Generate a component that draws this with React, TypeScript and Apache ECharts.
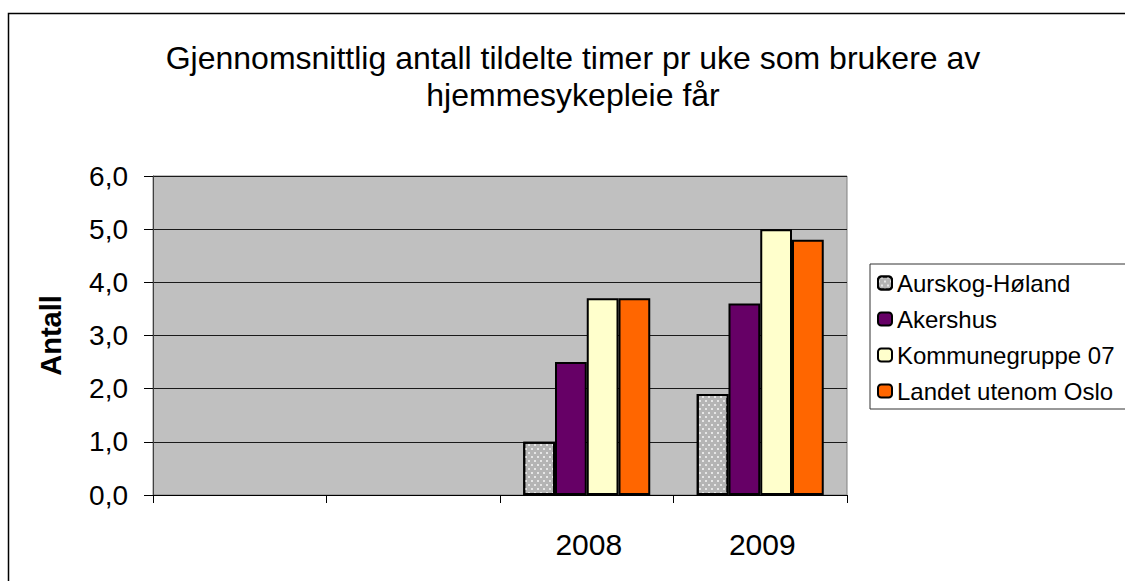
import React, { useEffect, useRef } from "react";
import * as echarts from "echarts";

const categories = ["", "", "2008", "2009"];
const seriesNames = ["Aurskog-Høland", "Akershus", "Kommunegruppe 07", "Landet utenom Oslo"];
const aurskogHoland = [null, null, 1.0, 1.9];
const akershus = [null, null, 2.5, 3.6];
const kommunegruppe07 = [null, null, 3.7, 5.0];
const landetUtenomOslo = [null, null, 3.7, 4.8];
const yTicks = [0, 1, 2, 3, 4, 5, 6];
const titleText = "Gjennomsnittlig antall tildelte timer pr uke som brukere av\nhjemmesykepleie får";
const yAxisName = "Antall";

const FONT = "'Liberation Sans', Arial, Helvetica, sans-serif";

export default function App() {
  const ref = useRef<HTMLDivElement>(null);
  useEffect(() => {
    if (!ref.current) return;
    const chart = echarts.init(ref.current, null, { renderer: "svg" });
    const border = { borderColor: "#000", borderWidth: 2 };
    const values = [aurskogHoland, akershus, kommunegruppe07, landetUtenomOslo];
    const colors = ["#b4b4b4", "#660066", "#ffffcc", "#ff6600"];
    chart.setOption({
      animation: false,
      textStyle: { fontFamily: FONT },
      title: {
        text: titleText,
        left: 568,
        top: 34,
        textAlign: "center",
        textStyle: { fontFamily: FONT, fontSize: 32, fontWeight: "normal", color: "#000", lineHeight: 37 },
      },
      graphic: [
        {
          type: "rect",
          shape: { x: 8.5, y: 13.5, width: 1400, height: 800 },
          style: { fill: "none", stroke: "#000", lineWidth: 1.5 },
          silent: true,
        },
      ],
      legend: {
        orient: "vertical",
        left: 870,
        top: 264,
        padding: [7, 13, 6, 7],
        itemWidth: 14,
        itemHeight: 13,
        itemGap: 12,
        borderColor: "#333",
        borderWidth: 1,
        backgroundColor: "#fff",
        textStyle: { fontFamily: FONT, fontSize: 24, color: "#000" },
        data: seriesNames,
      },
      grid: {
        left: 153,
        top: 176,
        right: 278,
        bottom: 86,
        show: true,
        backgroundColor: "#c0c0c0",
        borderColor: "#808080",
        borderWidth: 1,
      },
      xAxis: {
        type: "category",
        data: categories,
        axisLine: { lineStyle: { color: "#000", width: 1 } },
        axisTick: { show: true, length: 8, lineStyle: { color: "#000" } },
        axisLabel: { fontFamily: FONT, fontSize: 30, color: "#000", margin: 34, interval: 0, padding: [0, 0, 0, 4] },
      },
      yAxis: {
        type: "value",
        min: yTicks[0],
        max: yTicks[yTicks.length - 1],
        interval: 1,
        name: yAxisName,
        nameLocation: "middle",
        nameRotate: 90,
        nameGap: 88,
        nameTextStyle: { fontFamily: FONT, fontSize: 29, fontWeight: "bold", color: "#000" },
        axisLine: { show: true, lineStyle: { color: "#404040", width: 1 } },
        axisTick: { show: true, length: 9, lineStyle: { color: "#000" } },
        axisLabel: {
          fontFamily: FONT,
          fontSize: 28,
          color: "#000",
          margin: 25,
          formatter: (v: number) => v.toFixed(1).replace(".", ","),
        },
        splitLine: { show: true, lineStyle: { color: "#1a1a1a", width: 1 } },
      },
      series: seriesNames.map((name, i) => ({
        name,
        type: "bar",
        data: values[i],
        barGap: "0%",
        barCategoryGap: "26.8%",
        itemStyle:
          i === 0
            ? {
                color: colors[i],
                ...border,
                decal: {
                  symbol: "rect",
                  symbolSize: 1,
                  color: "#e6e6e6",
                  dashArrayX: [[2, 4], [0, 3, 2, 1]],
                  dashArrayY: [2, 2],
                  rotation: 0,
                },
              }
            : { color: colors[i], ...border },
      })),
    });
    return () => chart.dispose();
  }, []);
  return (
    <div
      ref={ref}
      style={{ position: "absolute", left: 0, top: 0, width: 1125, height: 581, background: "#fff" }}
    />
  );
}
